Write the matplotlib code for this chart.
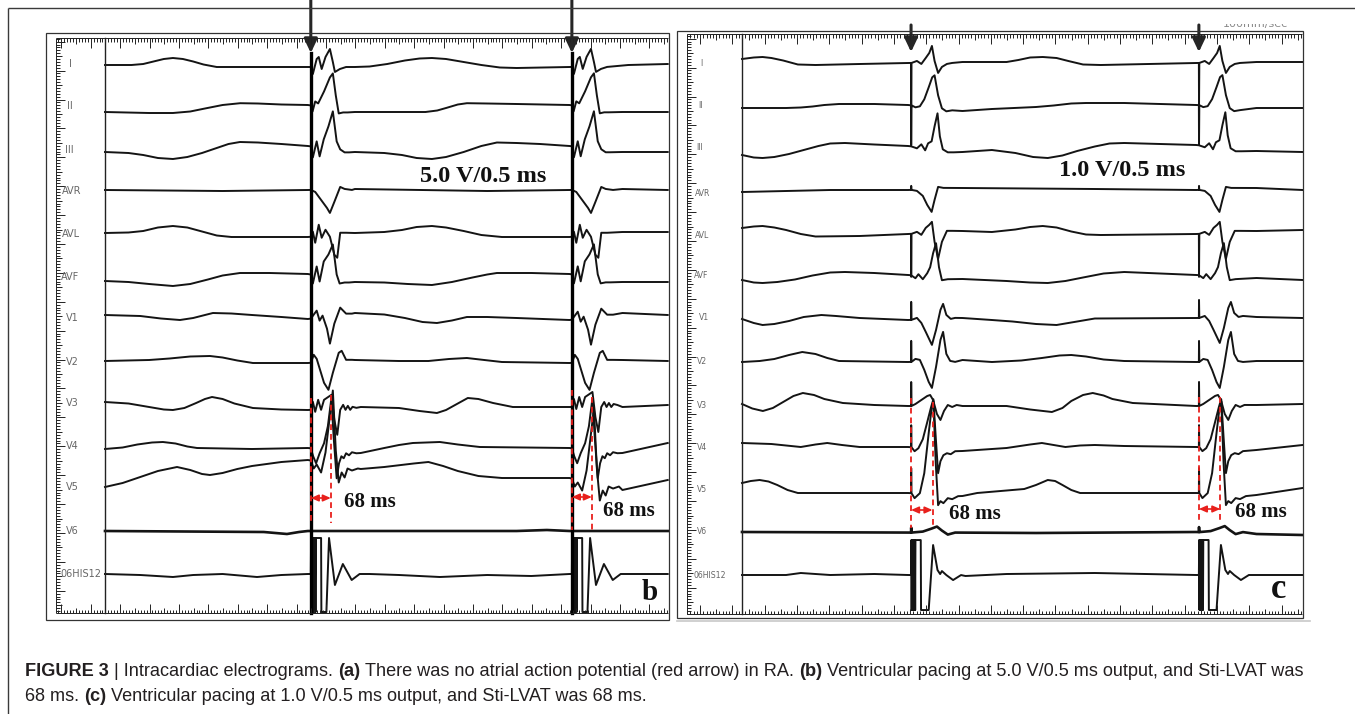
import numpy as np
import matplotlib
matplotlib.use("Agg")
import matplotlib.pyplot as plt
from matplotlib.collections import LineCollection
from matplotlib.patches import Rectangle
from matplotlib.transforms import Bbox

W, H, DPI = 1355, 714, 100

# ------------------------------------------------------------------ data
LEADS = ["I", "II", "III", "AVR", "AVL", "AVF", "V1", "V2", "V3", "V4", "V5", "V6", "06HIS12"]

b_stim = [700, 1588]          # pacing stimuli, ms on panel b time base
c_stim = [575, 1554]          # pacing stimuli, panel c time base
b_lvat = 68                   # Sti-LVAT drawn on panel b
c_lvat = 73                   # Sti-LVAT as drawn on panel c time base
lvat_text = "68 ms"
b_output = "5.0 V/0.5 ms"
c_output = "1.0 V/0.5 ms"

# panel b : baseline knots (t ms, amplitude px, up = +) and paced complex template
b_I_base = [(0, 0), (90, 0), (130, 1), (165, 3.5), (200, 6), (231, 7), (265, 6), (300, 3.5), (335, 0.5), (380, -2), (690, -2),
            (850, -2), (900, -1.5), (960, 1), (1020, 4.5), (1070, 6.5), (1112, 7), (1160, 6), (1220, 3), (1280, 0), (1343, -2.5), (1400, -3), (1580, -2), (1780, 0), (1914, 1)]
b_I_beat = [(0, 0), (7, -7), (20, 8), (27, 10), (37, -2), (50, 10), (65, 18), (75, 5), (82, -5), (99, -2), (120, 0)]
b_II_base = [(0, 0), (150, -1), (231, -1), (290, 0.5), (340, 3.5), (400, 7), (460, 8.8), (520, 8.5), (600, 7.5), (690, 7),
             (850, 0), (1090, 0), (1130, 1.5), (1160, 4), (1200, 7.5), (1231, 8.8), (1300, 8.5), (1400, 8), (1580, 7), (1760, 0), (1914, 0)]
b_II_beat = [(0, 0), (6, -6), (15, 4), (25, 2), (45, 14), (65, 28), (75, 32), (85, 10), (95, -8), (110, -7), (125, -7)]
b_III_base = [(0, 0), (80, -1), (130, -3), (180, -6), (231, -7), (280, -5), (330, -1), (380, 4), (420, 8), (459, 10), (520, 9.5), (600, 8), (690, 6),
              (850, 0), (950, -1), (1010, -3), (1060, -6), (1112, -7), (1160, -5), (1220, 0), (1280, 6), (1333, 9.5), (1400, 9), (1480, 8), (1580, 6), (1760, 0), (1914, 0)]
b_III_beat = [(0, 0), (7, -11), (20, 5), (30, -10), (44, 7), (60, 20), (75, 35), (88, 5), (100, -3), (115, -6), (130, -6)]
b_AVR_base = [(0, 0), (400, -1), (690, 0), (850, 1), (1300, -1), (1580, 0), (1760, 1), (1914, 0)]
b_AVR_beat = [(0, 0), (15, -2), (35, -10), (55, -18), (65, -23), (80, -12), (100, 3), (115, 1), (140, 0)]
b_AVL_base = [(0, 0), (80, 0.5), (130, 2), (180, 5.5), (231, 7), (280, 5.5), (330, 1.5), (380, -2.5), (430, -4), (690, -4),
              (850, 0), (950, 1), (1010, 3), (1060, 6), (1112, 7), (1160, 5.5), (1220, 2), (1280, -2), (1350, -4), (1580, -4), (1760, 1), (1914, 1)]
b_AVL_beat = [(0, 0), (7, 5), (15, -6), (27, 12), (37, -1), (50, 7), (65, 0), (80, -18), (90, -21), (100, 4), (120, 4)]
b_AVF_base = [(0, 0), (80, -1), (150, -3), (231, -5), (290, -3), (350, 1.5), (400, 5.5), (459, 8), (560, 8), (690, 7),
              (850, -1), (950, -1.5), (1030, -3), (1112, -4), (1180, -1), (1250, 3.5), (1300, 6.5), (1333, 8), (1450, 8), (1580, 7), (1760, -1), (1914, -1)]
b_AVF_beat = [(0, 0), (7, -9), (20, 8), (30, -7), (44, 13), (60, 20), (75, 30), (88, 0), (98, -9), (115, -8), (130, -8)]
b_V1_base = [(0, 0), (120, -1), (190, -3.5), (255, -5), (300, -3), (340, 0), (367, 2), (430, 1.5), (500, 0), (600, -2), (690, -4),
             (850, 2), (950, 0.5), (1020, -3), (1080, -7), (1129, -8), (1180, -5.5), (1231, -2), (1300, -2), (1400, -3), (1580, -5), (1760, 2), (1914, 0)]
b_V1_beat = [(0, 0), (20, 8), (30, -2), (40, 3), (55, -10), (65, -25), (80, -5), (100, 11), (120, 5), (140, 5)]
b_V2_base = [(0, 0), (150, 1), (220, 2.5), (290, 4.5), (357, 5), (400, 3.5), (450, 0.5), (503, -2), (690, -2),
             (850, 1), (1000, 0), (1100, 0), (1170, 2), (1231, 3), (1290, 1), (1350, -1), (1580, -2), (1760, 1), (1914, 0)]
b_V2_beat = [(0, 0), (10, 8), (20, 4), (45, -20), (60, -27), (75, -10), (95, 10), (105, 12), (120, 3), (140, 3)]
b_V3_base = [(0, 3), (80, 1.5), (150, -2), (200, -4.5), (231, -5), (270, -3), (310, 2), (340, 6), (364, 8), (400, 6), (440, 1.5), (503, -3), (600, -4.5), (690, -5),
             (870, -2), (1000, -3), (1070, -6), (1129, -8), (1160, -5), (1200, 1.5), (1234, 7), (1270, 6), (1320, 2), (1387, -2), (1580, -2), (1760, -2), (1914, 0)]
b_V3_beat = [(0, 0), (7, 8), (15, -2), (25, 10), (35, 0), (45, 10), (60, 13), (70, 15), (80, -10), (90, -25), (100, 0), (110, 5), (118, 0), (126, 4), (134, 0), (142, 3), (155, 2)]
b_V4_base = [(0, 0), (60, 1.5), (110, 4.5), (160, 6.5), (197, 7), (240, 5.5), (280, 2.5), (313, 1), (500, 0), (690, 1),
             (870, -4), (950, 1), (1000, 4), (1047, 6), (1139, 7), (1200, 4.5), (1275, 2), (1580, 1), (1760, -4), (1914, 6)]
b_V4_beat = [(0, 0), (8, -8), (18, -15), (30, -5), (45, 5), (58, 22), (70, 50), (78, 10), (88, -30), (96, -15), (104, -8), (112, -10), (120, -5), (130, -7), (140, -4), (155, -5)]
b_V5_base = [(0, 0), (60, 4), (120, 10), (180, 16), (245, 20), (290, 17), (330, 13), (357, 12), (400, 14), (450, 18), (500, 21), (600, 25), (690, 27),
             (870, 18), (950, 20), (1050, 23.5), (1100, 25), (1150, 21), (1200, 16), (1270, 11), (1350, 9), (1580, 9), (1760, -3), (1914, 7)]
b_V5_beat = [(0, 0), (10, -8), (20, -4), (35, -12), (50, 8), (65, 45), (75, 70), (85, 10), (95, -22), (105, -12), (115, -17), (125, -8), (140, -10), (160, -8)]
b_V6_base = [(0, 0), (540, -1), (619, -3), (660, -1), (690, 0), (1400, 0), (1503, 1), (1580, 0), (1914, 0)]
b_V6_beat = [(0, 0), (60, 0)]
b_HIS_base = [(0, 0), (120, -1), (231, -3), (300, -1), (400, 0), (517, -3), (600, -1), (690, 0), (900, 0), (1000, -1), (1139, -3), (1300, -1), (1450, -2), (1580, 0), (1780, 0), (1914, 0)]
b_HIS_beat = [(0, 0), (1, 36), (2, -38), (3, 36), (4, -38), (5, 36), (6, -38), (7, 36), (8, -38), (9, 36), (10, -38), (11, 36), (12, -38), (13, 36), (14, -38), (15, 36), (16, -38), (17, 36), (35, 36), (36, -38), (53, -38), (62, 36), (82, -11), (109, 10), (139, -6), (166, 0)]

# panel c
c_I_base = [(0, 3), (40, 4.5), (70, 5), (100, 4), (140, 1.5), (190, -2.5), (250, -3), (400, -2), (565, -1),
            (750, 0), (900, 0), (940, 2), (980, 4.5), (1023, 5), (1070, 4), (1110, 1), (1160, -2.5), (1220, -3), (1545, -1), (1750, 0), (1907, 0)]
c_I_beat = [(0, 0), (0.5, -45), (1.5, 0), (20, 2), (35, -1), (50, 5), (62, 10), (71, 17), (80, 2), (92, -10), (105, -4), (122, -1), (140, 0)]
c_II_base = [(0, 0), (150, 0), (200, 0.5), (240, 1.5), (280, 3), (330, 4), (450, 4), (565, 3),
             (750, -3), (850, -1), (1000, 1), (1060, 2.5), (1120, 4.5), (1170, 5), (1300, 5), (1545, 3), (1750, 0), (1907, 0)]
c_II_beat = [(0, 0), (0.5, -40), (1.5, 0), (15, -2), (30, -1), (45, 6), (60, 18), (72, 28), (80, 30), (92, 10), (105, -3), (120, -6), (140, -5)]
c_III_base = [(0, -8), (40, -10.5), (70, -11), (110, -10), (160, -7), (210, -3), (260, 1), (300, 3.5), (350, 4), (450, 2.5), (565, 1),
              (750, -5), (850, -3), (930, -6), (990, -10), (1040, -11), (1090, -8.5), (1140, -4), (1200, 0.5), (1250, 3.5), (1300, 4), (1545, 2), (1750, -4), (1907, -5)]
c_III_beat = [(0, 0), (20, -2), (35, 2), (48, -4), (58, 3), (70, 5), (80, 20), (90, 33), (98, 10), (108, -3), (125, -6), (145, -6)]
c_AVR_base = [(0, -2), (300, 0), (565, 0), (750, 2), (1200, 1), (1545, 0), (1750, 2), (1907, 0)]
c_AVR_beat = [(0, 0), (0.5, 4), (1.5, 0), (20, -1), (40, -6), (55, -15), (70, -22), (80, -10), (92, 3), (110, 2)]
c_AVL_base = [(0, 4), (40, 5.5), (70, 6), (110, 4.5), (150, 2), (200, -2), (250, -4.5), (400, -4), (565, -2),
              (750, 1), (850, 0), (930, 2.5), (980, 5), (1023, 6), (1070, 4.5), (1120, 0.5), (1170, -2.5), (1220, -3), (1545, -2), (1750, 1), (1907, 2)]
c_AVL_beat = [(0, 0), (0.5, -43), (1.5, 0), (20, 2), (35, -1), (50, 6), (62, 9), (71, 12), (80, -8), (92, -25), (105, -8), (122, 3), (140, 3)]
c_AVF_base = [(0, -5), (40, -7.5), (70, -8), (120, -7), (180, -4.5), (240, -0.5), (300, 2.5), (350, 3), (450, 2), (565, 0),
              (750, -4), (900, -6), (980, -7.5), (1040, -8), (1100, -6), (1160, -2.5), (1230, 1.5), (1300, 3), (1545, 0), (1750, -3), (1907, -5)]
c_AVF_beat = [(0, 0), (15, -3), (25, 1), (40, -4), (55, 2), (65, 8), (75, 22), (85, 32), (95, 8), (105, -5), (125, -4)]
c_V1_base = [(0, 1), (40, -3), (70, -5), (110, -4), (160, -1), (210, 3), (270, 5), (320, 4), (400, 2), (565, 0),
             (750, 2), (850, 0), (920, -1.5), (1000, -4), (1070, -5), (1130, -2), (1200, 1.5), (1545, 2), (1750, 3), (1907, 2)]
c_V1_beat = [(0, 0), (0.5, 18), (1.5, 0), (20, 2), (35, -3), (50, -12), (71, -25), (85, -10), (100, 10), (109, 16), (120, 5), (135, 1), (150, 2)]
c_V2_base = [(0, 0), (60, 1), (110, 3), (160, 7), (205, 10), (250, 8), (290, 4), (330, 1), (565, 0),
             (750, 2), (850, 0), (950, 1.5), (1020, 4), (1080, 6.5), (1120, 7), (1170, 5.5), (1230, 2.5), (1300, 1), (1545, 0), (1750, 1), (1907, 1)]
c_V2_beat = [(0, 0), (0.5, 21), (1.5, 0), (15, 3), (30, 2), (45, -8), (60, -20), (71, -26), (85, -5), (100, 22), (109, 30), (120, 8), (133, 1), (150, 0)]
c_V3_base = [(0, 2), (35, -2.5), (71, -5), (105, -2), (140, 4), (175, 10), (207, 13), (245, 11), (280, 7), (343, 3), (450, 1), (565, 0),
             (750, 0), (900, 0), (980, -3.5), (1054, -6), (1090, -2), (1120, 5), (1160, 11), (1193, 13), (1230, 10.5), (1260, 7), (1329, 3), (1545, 0), (1750, 1), (1907, 2)]
c_V3_beat = [(0, 0), (0.5, 24), (1.5, 0), (15, 2), (35, 6), (55, 10), (65, 11), (75, 6), (88, -8), (100, -14), (112, -5), (125, 1), (140, -1), (155, 1)]
c_V4_base = [(0, 4), (100, 3), (150, 1.5), (200, 0), (250, 2.5), (290, 4), (340, 2), (400, 0), (565, 0),
             (750, -4), (800, -3), (900, -1), (980, 2.5), (1020, 4), (1060, 2), (1100, 0), (1150, 1.5), (1200, 2), (1300, 1), (1545, 0), (1750, -3), (1907, 2)]
c_V4_beat = [(0, 0), (0.5, 22), (1.5, 0), (12, -4), (25, -1), (40, 8), (55, 25), (68, 40), (76, 48), (84, 10), (92, -26), (100, -14), (110, -8), (122, -6), (135, -7), (150, -4)]
c_V5_base = [(0, 10), (30, 12), (60, 13), (90, 11.5), (120, 8), (155, 3), (190, 0), (565, 0),
             (750, -3), (800, 0), (960, 4), (1000, 8), (1040, 13), (1065, 12), (1090, 8), (1120, 3), (1150, 0), (1545, 0), (1750, -2), (1907, 5)]
c_V5_beat = [(0, 0), (0.5, 25), (1.5, 0), (12, -5), (30, 0), (45, 20), (60, 60), (70, 85), (76, 92), (84, 30), (92, -12), (100, -8), (110, -10), (125, -5), (140, -6), (160, -3)]
c_V6_base = [(0, 0), (1000, -1), (1545, 0), (1750, -2), (1907, -3)]
c_V6_beat = [(0, 0), (0.5, 5), (1.5, 0), (40, 1), (70, 4), (88, 6), (105, 2), (125, -2), (150, 0)]
c_HIS_base = [(0, 0), (150, 0), (200, 2), (300, 0), (450, 1), (565, 0), (760, -1), (900, 1), (1200, 2), (1545, 0), (1750, 0), (1907, 0)]
c_HIS_beat = [(0, 0), (1, 35), (2, -35), (3, 35), (4, -35), (5, 35), (6, -35), (7, 35), (8, -35), (9, 35), (10, -35), (11, 35), (12, -35), (13, 35), (14, -35), (15, 35), (33, 35), (34, -35), (60, -35), (75, 30), (90, 5), (99, 1), (105, 4), (120, 0), (143, -5), (170, 0)]

b_base = [b_I_base, b_II_base, b_III_base, b_AVR_base, b_AVL_base, b_AVF_base, b_V1_base, b_V2_base, b_V3_base, b_V4_base, b_V5_base, b_V6_base, b_HIS_base]
b_beat = [b_I_beat, b_II_beat, b_III_beat, b_AVR_beat, b_AVL_beat, b_AVF_beat, b_V1_beat, b_V2_beat, b_V3_beat, b_V4_beat, b_V5_beat, b_V6_beat, b_HIS_beat]
c_base = [c_I_base, c_II_base, c_III_base, c_AVR_base, c_AVL_base, c_AVF_base, c_V1_base, c_V2_base, c_V3_base, c_V4_base, c_V5_base, c_V6_base, c_HIS_base]
c_beat = [c_I_beat, c_II_beat, c_III_beat, c_AVR_beat, c_AVL_beat, c_AVF_beat, c_V1_beat, c_V2_beat, c_V3_beat, c_V4_beat, c_V5_beat, c_V6_beat, c_HIS_beat]

cap_line1 = [("FIGURE 3", "bold"), ("| Intracardiac electrograms.", "normal"), ("(a)", "bold"),
             ("There was no atrial action potential (red arrow) in RA.", "normal"), ("(b)", "bold"),
             ("Ventricular pacing at 5.0 V/0.5 ms output, and Sti-LVAT was", "normal")]
cap_line2 = [("68 ms.", "normal"), ("(c)", "bold"),
             ("Ventricular pacing at 1.0 V/0.5 ms output, and Sti-LVAT was 68 ms.", "normal")]

# ------------------------------------------------------------------ layout (pixels)
PPM = 0.294   # px per time unit on both panels
PANEL_B = dict(x0=46, x1=669, y0=33, y1=620, sep=105, rl=56, rt=38, rb=613, tick0=90.7, tstep=29.4,
               vtick0=41.7, vstep=28.9,
               rows=[65, 112, 152, 190, 233, 281, 315, 361, 405, 449, 487, 531, 574],
               lab_x=[69, 67, 65, 61.5, 61.5, 60.5, 66, 66, 66, 66, 66, 66, 60],
               lab_y=[64, 106, 150, 191, 234, 277, 318, 362, 403, 446, 487, 531, 574], lab_fs=7.0,
               dash=[((398, 523), (395, 523), 498), ((390, 530), (397, 530), 497)],
               arrow=(0, 53), solid_stim=True,
               lvat_pos=[(370, 502), (629, 511)], out_pos=(483, 176), letter="b", letter_pos=(650, 592), letter_fs=21)
PANEL_C = dict(x0=677, x1=1303, y0=31, y1=618, sep=742, rl=687, rt=34, rb=614, tick0=1023.1, tstep=32.3,
               vtick0=38.7, vstep=28.9,
               rows=[62, 108, 147, 190, 232, 275, 320, 362, 406, 447, 493, 532, 575],
               lab_x=[700.5, 698.5, 696.5, 695, 695, 694, 698.5, 696.5, 696.5, 696.5, 696.5, 696.5, 694],
               lab_y=[63, 106, 148, 193, 235, 276, 318, 362, 405, 447, 490, 532, 575], lab_fs=5.6,
               dash=[((398, 528), (402, 528), 510), ((397, 523), (397, 523), 509)],
               arrow=(25, 52), solid_stim=False,
               lvat_pos=[(975, 514), (1261, 512)], out_pos=(1122, 171), letter="c", letter_pos=(1279, 590), letter_fs=25)

INK = "#141414"
RED = "#e8201c"
SERIF = "Liberation Serif"
SANS = "Liberation Sans"


def build_trace(base, beat, stims):
    base = np.asarray(base, float)
    beat = np.asarray(beat, float)
    bt, bv = base[:, 0], base[:, 1]
    tt, tv = beat[:, 0], beat[:, 1]
    xs, ys, lo = [], [], -np.inf
    for s in stims:
        m = (bt > lo) & (bt < s)
        xs.append(bt[m]); ys.append(bv[m])
        lvl = np.interp(s, bt, bv)
        xs.append(s + tt); ys.append(lvl + tv)
        lo = s + tt[-1]
    m = bt > lo
    xs.append(bt[m]); ys.append(bv[m])
    return np.concatenate(xs), np.concatenate(ys)


fig = plt.figure(figsize=(W / DPI, H / DPI), dpi=DPI, facecolor="white")

# overlay axes in pixel units for frames, rulers and text
ov = fig.add_axes([0, 0, 1, 1], zorder=5)
ov.set_xlim(0, W); ov.set_ylim(H, 0); ov.axis("off"); ov.patch.set_alpha(0)

# outer figure frame (top and left)
ov.plot([8, W], [8, 8], color="#3a3a3a", lw=1.0, solid_capstyle="butt")
ov.plot([8, 8], [8, H], color="#3a3a3a", lw=1.0, solid_capstyle="butt")


def hruler(xa, xb, y, x0, step, sign):
    segs = [[(xa, y), (xb, y)]]
    minor = step / 10.0
    for k in range(int(np.ceil((xa - x0) / minor)), int(np.floor((xb - x0) / minor)) + 1):
        x = x0 + k * minor
        L = 9.5 if k % 10 == 0 else (5.5 if k % 5 == 0 else 3.5)
        segs.append([(x, y), (x, y + sign * L)])
    ov.add_collection(LineCollection(segs, colors="#222", linewidths=0.7))


def vruler(ya, yb, x, y0, step):
    segs = [[(x, ya), (x, yb)]]
    minor = step / 10.0
    for k in range(int(np.ceil((ya - y0) / minor)), int(np.floor((yb - y0) / minor)) + 1):
        y = y0 + k * minor
        L = 9 if k % 10 == 0 else (6 if k % 5 == 0 else 4)
        segs.append([(x, y), (x + L, y)])
    ov.add_collection(LineCollection(segs, colors="#222", linewidths=0.7))


def draw_panel(P, bases, beats, stims, lvat, out_text):
    ax = fig.add_axes([P["x0"] / W, 1 - P["y1"] / H, (P["x1"] - P["x0"]) / W, (P["y1"] - P["y0"]) / H], zorder=3)
    ax.set_xlim((P["x0"] - P["sep"]) / PPM, (P["x1"] - P["sep"]) / PPM)
    ax.set_ylim(P["y1"], P["y0"])
    ax.axis("off"); ax.patch.set_alpha(0)

    # frames and rulers
    ov.add_patch(Rectangle((P["x0"], P["y0"]), P["x1"] - P["x0"], P["y1"] - P["y0"], fill=False, ec="#333", lw=0.9))
    hruler(P["rl"], P["x1"] - 1, P["rt"], P["tick0"], P["tstep"], +1)
    hruler(P["rl"], P["x1"] - 1, P["rb"], P["tick0"], P["tstep"], -1)
    vruler(P["rt"], P["rb"], P["rl"], P["vtick0"], P["vstep"])
    ov.plot([P["sep"], P["sep"]], [P["rt"], P["rb"]], color="#222", lw=1.0)

    for i, name in enumerate(LEADS):
        ov.text(P["lab_x"][i], P["lab_y"][i], name, fontsize=P["lab_fs"], color="#666666",
                family="DejaVu Sans", ha="left", va="center")
        t, v = build_trace(bases[i], beats[i], stims)
        ax.plot(t, P["rows"][i] - v, color=INK, lw=1.9 if name == "V6" else 1.4,
                solid_joinstyle="round", clip_on=True)

    for k, s in enumerate(stims):
        if P["solid_stim"]:
            ax.plot([s, s], [P["arrow"][1], P["rb"]], color="black", lw=2.4, clip_on=False)
        ax.annotate("", xy=(s, P["arrow"][1]), xytext=(s, P["arrow"][0]), xycoords="data",
                    annotation_clip=False,
                    arrowprops=dict(arrowstyle="-|>,head_length=0.42,head_width=0.2", color="#262626",
                                    lw=2.2, mutation_scale=20, shrinkA=0, shrinkB=0))
        (l0, l1), (r0, r1), ya = P["dash"][k]
        ax.plot([s, s], [l0, l1], color=RED, lw=1.3, ls=(0, (3.2, 2.2)))
        ax.plot([s + lvat, s + lvat], [r0, r1], color=RED, lw=1.3, ls=(0, (3.2, 2.2)))
        ax.annotate("", xy=(s + lvat, ya), xytext=(s, ya),
                    arrowprops=dict(arrowstyle="<|-|>,head_length=0.5,head_width=0.22", color=RED,
                                    lw=1.2, mutation_scale=9, shrinkA=0, shrinkB=0))
        ov.text(P["lvat_pos"][k][0], P["lvat_pos"][k][1], lvat_text, fontsize=15, family=SERIF,
                weight="bold", ha="center", va="center", color="#111")

    ov.text(P["out_pos"][0], P["out_pos"][1], out_text, fontsize=17.5, family=SERIF, weight="bold",
            ha="center", va="center", color="#111")
    ov.text(P["letter_pos"][0], P["letter_pos"][1], P["letter"], fontsize=P["letter_fs"], family=SERIF,
            weight="bold", ha="center", va="center", color="#111")
    return ax


draw_panel(PANEL_B, b_base, b_beat, b_stim, b_lvat, b_output)
draw_panel(PANEL_C, c_base, c_beat, c_stim, c_lvat, c_output)

# light shadow under panel c
ov.plot([677, 1310], [620.5, 620.5], color="#c8c8c8", lw=1.2)

# clipped scale text above panel c (only its lower part is visible)
tsc = ov.text(1255, 26.8, "100mm/sec", fontsize=8, color="#8a8a8a", family="DejaVu Sans",
              ha="center", va="baseline")
tsc.set_clip_on(True)
tsc.set_clip_box(Bbox([[1190, H - 31], [1320, H - 23.5]]))

# ------------------------------------------------------------------ caption
renderer = fig.canvas.get_renderer()


def width_of(s, size, weight):
    t = ov.text(0, 0, s, fontsize=size, family=SANS, weight=weight)
    w = t.get_window_extent(renderer).width
    t.remove()
    return w


def draw_caption_line(segs, x0, y, size):
    sp = width_of("n n", size, "normal") - width_of("nn", size, "normal")
    x = x0
    arts = []
    for s, wt in segs:
        t = ov.text(x, y, s, fontsize=size, family=SANS, weight=wt, color="#231f20",
                    ha="left", va="baseline")
        bb = t.get_window_extent(renderer)
        x = x + bb.width + sp
        arts.append(t)
    return arts, x - sp


size0 = 11.0
arts, xend = draw_caption_line(cap_line1, 25, 676, size0)
for a in arts:
    a.remove()
size = size0 * (1302 - 25) / (xend - 25)
draw_caption_line(cap_line1, 25, 676, size)
draw_caption_line(cap_line2, 25, 701, size)

fig.savefig("out.png", dpi=DPI, facecolor="white")
